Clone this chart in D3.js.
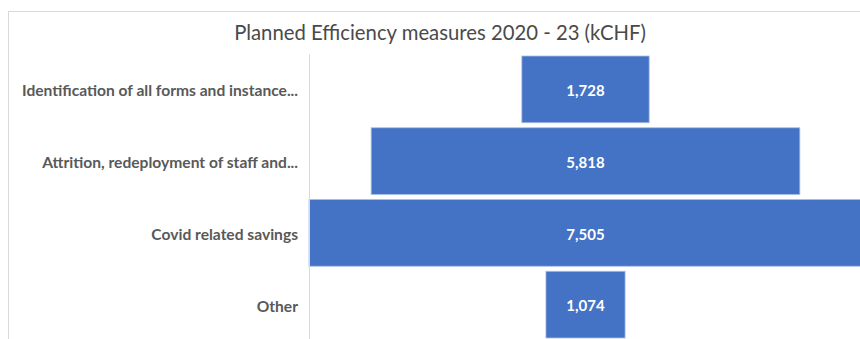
<!DOCTYPE html>
<html>
<head>
<meta charset="utf-8">
<script src="https://cdn.jsdelivr.net/npm/d3@7"></script>
<style>
  body { margin: 0; background: #fff; }
  svg { display: block; }
  .axis text { font-family: Lato, "Open Sans", sans-serif; font-weight: bold; font-size: 15.6px; fill: #595959; }
</style>
</head>
<body>
<div id="chart"></div>
<script>
var categories = ["Identification of all forms and instance...", "Attrition, redeployment of staff and...", "Covid related savings", "Other"];
var values = [1728, 5818, 7505, 1074];
var title = "Planned Efficiency measures 2020 - 23 (kCHF)";

var width = 860, height = 339;
var margin = { top: 53.5, right: -2, bottom: -1.5, left: 309 };

var svg = d3.select("#chart").append("svg")
    .attr("width", width)
    .attr("height", height);

// chart frame (runs off the right and bottom edges)
svg.append("rect")
    .attr("x", 8.5).attr("y", 11.5)
    .attr("width", 870).attr("height", 340)
    .attr("fill", "none")
    .attr("stroke", "#d9d9d9");

svg.append("text")
    .attr("x", 440).attr("y", 40)
    .attr("text-anchor", "middle")
    .style("font-family", "Lato, 'Open Sans', sans-serif")
    .style("font-size", "20.3px")
    .style("fill", "#4a4a4a")
    .text(title);

var maxVal = d3.max(values);
var x = d3.scaleLinear()
    .domain([-maxVal / 2, maxVal / 2])
    .range([margin.left, width - margin.right]);

var y = d3.scaleBand()
    .domain(categories)
    .range([margin.top, height - margin.bottom])
    .paddingInner(0.07)
    .paddingOuter(0.035);

var data = categories.map(function(c, i) { return { cat: c, val: values[i] }; });

svg.selectAll("rect.bar")
    .data(data)
    .enter().append("rect")
    .attr("class", "bar")
    .attr("x", function(d) { return x(-d.val / 2); })
    .attr("y", function(d) { return y(d.cat); })
    .attr("width", function(d) { return x(d.val / 2) - x(-d.val / 2); })
    .attr("height", y.bandwidth())
    .attr("fill", "#4472c4")
    .attr("stroke", "#a9bfe6")
    .attr("stroke-width", 0.8);

svg.selectAll("text.lbl")
    .data(data)
    .enter().append("text")
    .attr("class", "lbl")
    .attr("x", x(0))
    .attr("y", function(d) { return y(d.cat) + y.bandwidth() / 2; })
    .attr("dy", "0.45em")
    .attr("text-anchor", "middle")
    .style("font-family", "Lato, 'Open Sans', sans-serif")
    .style("font-weight", "bold")
    .style("font-size", "15px")
    .style("fill", "#fff")
    .text(function(d) { return d3.format(",")(d.val); });

var yAxis = svg.append("g")
    .attr("class", "axis")
    .attr("transform", "translate(" + margin.left + ",0)")
    .call(d3.axisLeft(y).tickSize(0).tickPadding(11));
yAxis.select(".domain").attr("stroke", "#d9d9d9").attr("stroke-width", 1);
yAxis.selectAll(".tick text").attr("dy", "0.45em");
</script>
</body>
</html>
